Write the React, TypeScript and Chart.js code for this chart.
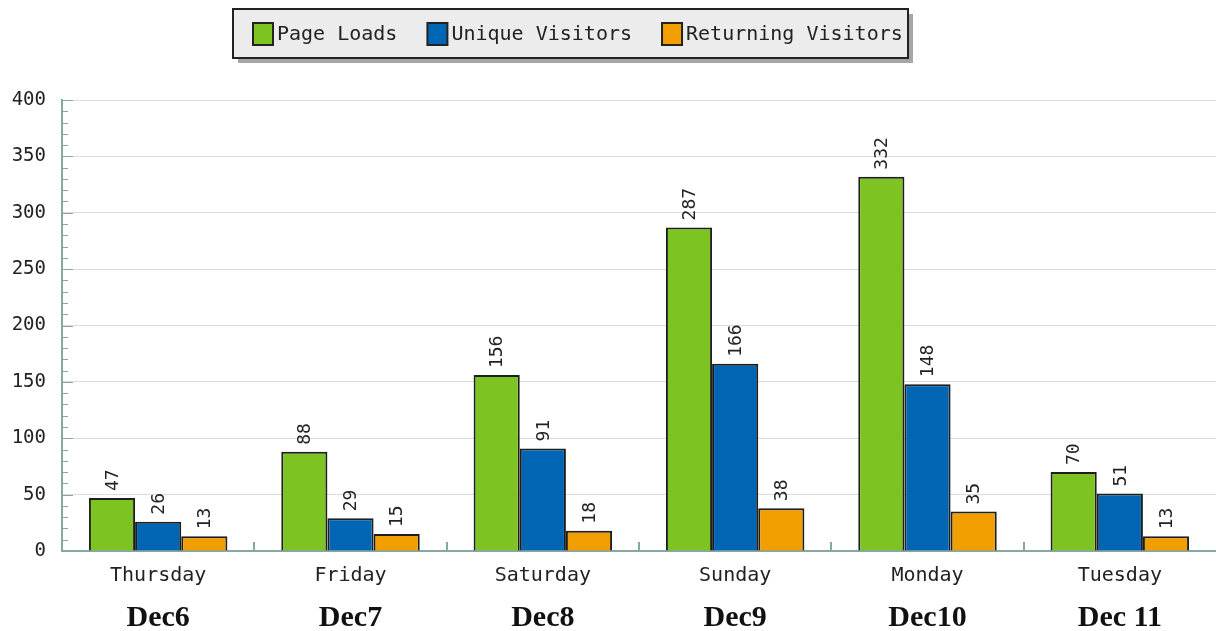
import React, { useEffect, useRef } from "react";
import { Chart, registerables } from "chart.js";

Chart.register(...registerables);

const categories = ["Thursday", "Friday", "Saturday", "Sunday", "Monday", "Tuesday"];
const dateLabels = ["Dec6", "Dec7", "Dec8", "Dec9", "Dec10", "Dec 11"];
const pageLoads = [47, 88, 156, 287, 332, 70];
const uniqueVisitors = [26, 29, 91, 166, 148, 51];
const returningVisitors = [13, 15, 18, 38, 35, 13];
const seriesNames = ["Page Loads", "Unique Visitors", "Returning Visitors"];
const yMax = 400;
const yStep = 50;
const yMinorStep = 10;

const COLORS = ["#7dc423", "#0066b3", "#f09e00"];
const AXIS = "#86a8a3";
const MONO = "'DejaVu Sans Mono', monospace";

const decorPlugin = {
  id: "decor",
  beforeDatasetsDraw(chart: any) {
    const { ctx, chartArea, scales } = chart;
    const y = scales.y;
    const x = scales.x;
    ctx.save();
    ctx.strokeStyle = AXIS;
    ctx.lineWidth = 1;
    for (let v = 0; v <= yMax; v += yMinorStep) {
      const py = Math.round(y.getPixelForValue(v)) + 0.5;
      const len = v % yStep === 0 ? 11 : 6;
      ctx.beginPath();
      ctx.moveTo(chartArea.left, py);
      ctx.lineTo(chartArea.left + len, py);
      ctx.stroke();
    }
    ctx.lineWidth = 2;
    for (let i = 1; i < categories.length; i++) {
      const px = Math.round((x.getPixelForValue(i - 1) + x.getPixelForValue(i)) / 2);
      ctx.beginPath();
      ctx.moveTo(px, chartArea.bottom);
      ctx.lineTo(px, chartArea.bottom - 9);
      ctx.stroke();
    }
    ctx.restore();
  },
  afterDatasetsDraw(chart: any) {
    const { ctx } = chart;
    ctx.save();
    ctx.fillStyle = "#222";
    ctx.font = `18px ${MONO}`;
    ctx.textAlign = "left";
    ctx.textBaseline = "middle";
    chart.data.datasets.forEach((ds: any, di: number) => {
      const meta = chart.getDatasetMeta(di);
      meta.data.forEach((bar: any, j: number) => {
        ctx.save();
        ctx.translate(bar.x + 1, bar.y - 7);
        ctx.rotate(-Math.PI / 2);
        ctx.fillText(String(ds.data[j]), 0, 0);
        ctx.restore();
      });
    });
    ctx.restore();
  },
  afterDraw(chart: any) {
    const { ctx } = chart;
    const bx = 233, by = 9, bw = 675, bh = 49;
    ctx.save();
    ctx.fillStyle = "#a6a6a6";
    ctx.fillRect(bx + 5, by + 5, bw, bh);
    ctx.fillStyle = "#ececec";
    ctx.fillRect(bx, by, bw, bh);
    ctx.strokeStyle = "#222";
    ctx.lineWidth = 2;
    ctx.strokeRect(bx, by, bw, bh);
    ctx.font = `20px ${MONO}`;
    ctx.textBaseline = "middle";
    ctx.textAlign = "left";
    let cx = 253;
    seriesNames.forEach((name, i) => {
      ctx.fillStyle = COLORS[i];
      ctx.fillRect(cx, 23, 20, 22);
      ctx.strokeStyle = "#222";
      ctx.lineWidth = 2;
      ctx.strokeRect(cx, 23, 20, 22);
      ctx.fillStyle = "#222";
      ctx.fillText(name, cx + 24, 35);
      cx += 24 + ctx.measureText(name).width + 30;
    });
    ctx.restore();
  },
};

export default function App() {
  const ref = useRef<HTMLCanvasElement | null>(null);
  useEffect(() => {
    document.body.style.margin = "0";
    const canvas = ref.current!;
    const chart = new Chart(canvas, {
      type: "bar",
      data: {
        labels: categories,
        datasets: [pageLoads, uniqueVisitors, returningVisitors].map((d, i) => ({
          label: seriesNames[i],
          data: d,
          backgroundColor: COLORS[i],
          borderColor: "#1e1e1e",
          borderWidth: 2,
          borderSkipped: "bottom",
          categoryPercentage: 0.72,
          barPercentage: 1.0,
        })),
      },
      options: {
        animation: false,
        responsive: false,
        maintainAspectRatio: false,
        layout: { padding: { top: 100, left: 2, right: 0, bottom: 0 } },
        plugins: { legend: { display: false }, tooltip: { enabled: false } },
        scales: {
          x: {
            type: "category",
            offset: true,
            grid: { display: false },
            border: { color: AXIS, width: 2 },
            ticks: { font: { family: MONO, size: 20 }, color: "#222", padding: 5 },
            afterFit: (s: any) => { s.height = 40; },
          },
          x2: {
            type: "category",
            labels: dateLabels,
            position: "bottom",
            offset: true,
            grid: { display: false },
            border: { display: false },
            ticks: { font: { family: "'Liberation Serif', serif", size: 30, weight: "bold" }, color: "#111", padding: 1 },
            afterFit: (s: any) => { s.height = 40; },
          },
          y: {
            min: 0,
            max: yMax,
            ticks: { stepSize: yStep, font: { family: MONO, size: 19 }, color: "#222", padding: 16 },
            grid: { color: "#dcdcdc", drawTicks: false },
            border: { color: AXIS, width: 2 },
            afterFit: (s: any) => { s.width = 60; },
          },
        },
      },
      plugins: [decorPlugin],
    } as any);
    return () => chart.destroy();
  }, []);
  return <canvas ref={ref} width={1216} height={631} style={{ display: "block" }} />;
}
